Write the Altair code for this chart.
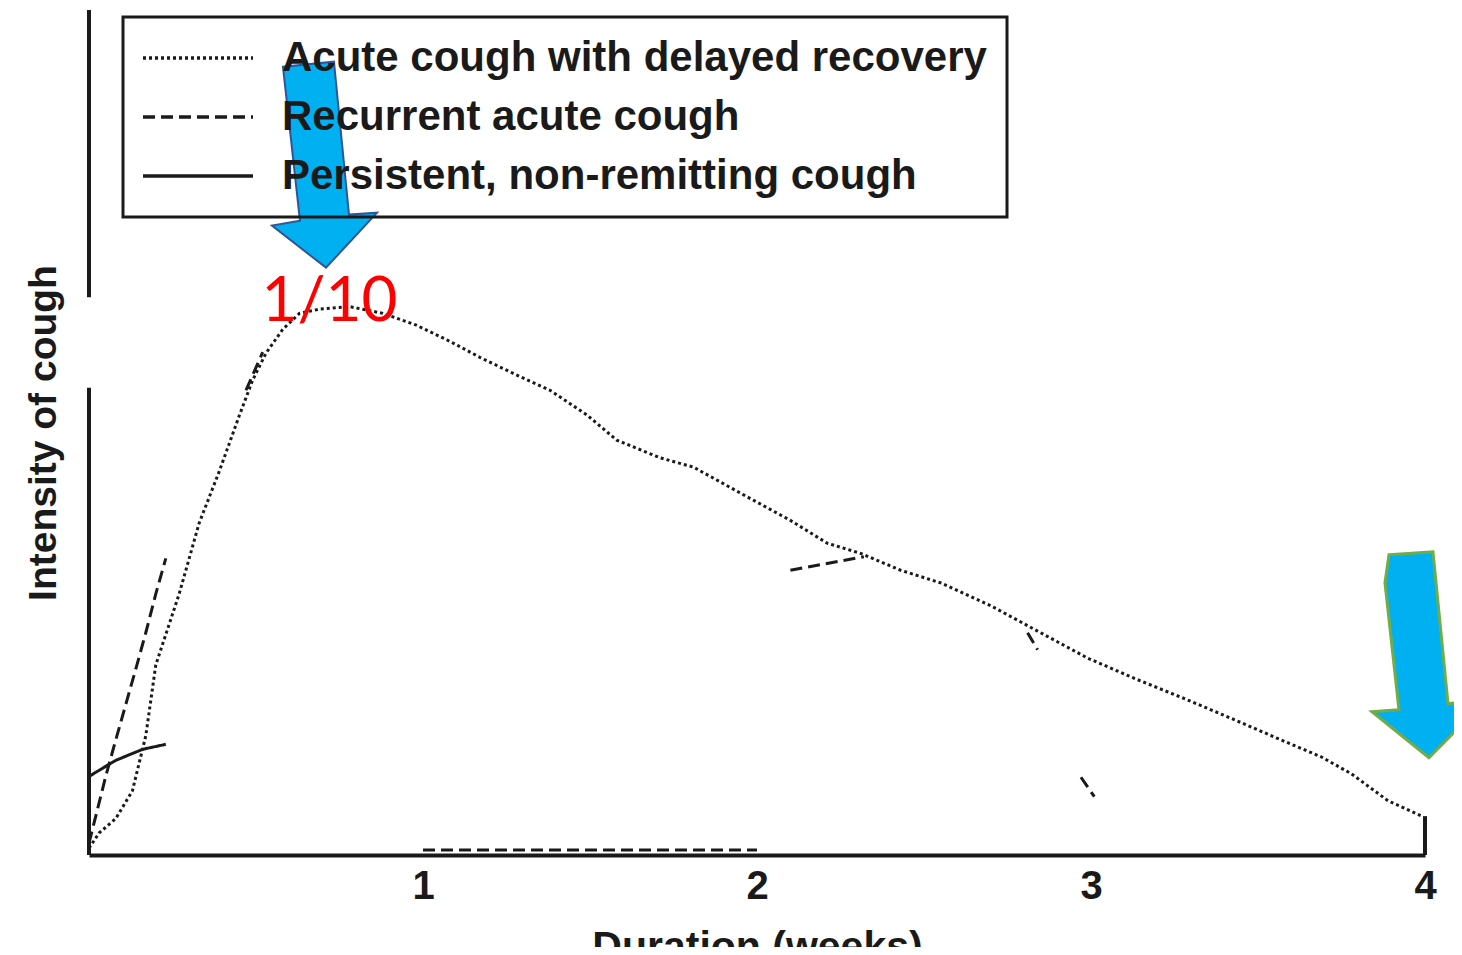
import altair as alt
import pandas as pd

# ---- data (weeks, intensity on a 0-100 scale) ----
acute_weeks = [0.00, 0.03, 0.08, 0.13, 0.17, 0.20, 0.27, 0.33, 0.39, 0.45,
               0.49, 0.53, 0.58, 0.63, 0.69, 0.78, 0.88, 0.98, 1.08, 1.17,
               1.27, 1.38, 1.49, 1.58, 1.71, 1.81, 1.97, 2.10, 2.21, 2.31,
               2.43, 2.55, 2.70, 2.84, 2.99, 3.13, 3.28, 3.43, 3.57, 3.69,
               3.78, 3.89, 3.99]
acute_values = [0.8, 2.6, 4.3, 7.6, 14.1, 22.5, 30.9, 39.3, 45.4, 52.0,
                56.2, 59.4, 62.2, 64.1, 64.6, 64.9, 64.1, 62.7, 60.8, 58.9,
                57.0, 55.0, 52.1, 49.1, 47.0, 45.9, 42.4, 39.6, 36.9, 35.7,
                33.7, 32.2, 29.5, 26.5, 23.3, 20.9, 18.5, 16.0, 13.6, 11.6,
                9.6, 6.4, 4.6]

# recurrent acute cough: only the visible pieces (segment id, week, value)
recurrent_seg = [1, 1, 1, 1, 1, 1, 1, 1, 2, 2, 3, 3, 4, 4, 5, 5, 6, 6]
recurrent_weeks = [0.00, 0.05, 0.08, 0.11, 0.14, 0.17, 0.20, 0.23,
                   0.47, 0.52, 1.00, 2.00, 2.10, 2.32, 2.81, 2.84, 2.97, 3.01]
recurrent_values = [1.4, 9.3, 13.6, 17.8, 22.0, 26.3, 30.9, 35.1,
                    55.0, 59.5, 0.6, 0.6, 33.7, 35.3, 26.3, 24.3, 9.2, 6.9]

# persistent cough: visible piece
persistent_weeks = [0.00, 0.08, 0.16, 0.23]
persistent_values = [9.3, 11.2, 12.5, 13.1]

series_names = ["Acute cough with delayed recovery",
                "Recurrent acute cough",
                "Persistent, non-remitting cough"]

# visible pieces of the y-axis line and the end line at 4 weeks
axis_x = [0, 0, 4]
axis_y = [0, 66.0, 0]
axis_y2 = [55.3, 100, 4.6]

note_text = ["1/10"]
note_week = [0.72]
note_value = [65.4]

arrow_week = [0.705, 3.985]
arrow_value = [81.7, 23.7]

# ---- tables ----
rows = []
for w, v in zip(acute_weeks, acute_values):
    rows.append({"series": series_names[0], "seg": "a1", "week": w, "value": v})
for s, w, v in zip(recurrent_seg, recurrent_weeks, recurrent_values):
    rows.append({"series": series_names[1], "seg": f"r{s}", "week": w, "value": v})
for w, v in zip(persistent_weeks, persistent_values):
    rows.append({"series": series_names[2], "seg": "p1", "week": w, "value": v})
lines_df = pd.DataFrame(rows)

axis_df = pd.DataFrame({"week": axis_x, "value": axis_y, "value2": axis_y2})
note_df = pd.DataFrame({"text": note_text, "week": note_week, "value": note_value})
arrow1_df = pd.DataFrame({"week": arrow_week[:1], "value": arrow_value[:1]})
arrow2_df = pd.DataFrame({"week": arrow_week[1:], "value": arrow_value[1:]})

FONT = "Liberation Sans"
INK = "#1a1a1a"

x_scale = alt.Scale(domain=[0, 4], nice=False, zero=False)
y_scale = alt.Scale(domain=[0, 100], nice=False, zero=False)

x_axis = alt.Axis(values=[1, 2, 3, 4], format="d", grid=False, ticks=False,
                  domainColor=INK, domainWidth=4,
                  labelFont=FONT, labelFontSize=40, labelFontWeight="bold",
                  labelColor=INK, labelPadding=11, labelFlush=False,
                  title="Duration (weeks)", titleFont=FONT, titleFontSize=41,
                  titleFontWeight="bold", titleColor=INK, titlePadding=21)
y_axis = alt.Axis(labels=False, ticks=False, domain=False, grid=False,
                  title="Intensity of cough", titleFont=FONT, titleFontSize=39,
                  titleFontWeight="bold", titleColor=INK, titlePadding=26)

lines = alt.Chart(lines_df).mark_line(strokeWidth=3, color=INK).encode(
    x=alt.X("week:Q", scale=x_scale, axis=x_axis),
    y=alt.Y("value:Q", scale=y_scale, axis=y_axis),
    strokeDash=alt.StrokeDash(
        "series:N",
        scale=alt.Scale(domain=series_names, range=[[3, 3], [12, 6], [1, 0]]),
        legend=alt.Legend(
            title=None, orient="none", legendX=34, legendY=7, zindex=0,
            strokeColor=INK, padding=20,
            symbolType="M-5,0H5", symbolSize=484, symbolStrokeWidth=3.5,
            symbolStrokeColor=INK, symbolOffset=34, labelOffset=63,
            labelFont=FONT, labelFontSize=42, labelFontWeight="bold",
            labelColor=INK, labelLimit=0, rowPadding=17,
        ),
    ),
    detail="seg:N",
    order="week:Q",
)

axis_lines = alt.Chart(axis_df).mark_rule(strokeWidth=4, color=INK).encode(
    x="week:Q", y="value:Q", y2="value2:Q"
)

note = alt.Chart(note_df).mark_text(
    font="Lato", fontSize=62, color="#ff0000", align="center", baseline="middle"
).encode(x="week:Q", y="value:Q", text="text:N")

arrow1 = alt.Chart(arrow1_df).mark_point(
    shape="M-0.403,-0.951L0.092,-1L0.238,0.485L0.51,0.466L0.015,1L-0.51,0.592L-0.238,0.544Z",
    size=42436, filled=True, fill="#00b0f0", stroke="#2f5597", strokeWidth=2, opacity=1,
).encode(x="week:Q", y="value:Q")

arrow2 = alt.Chart(arrow2_df).mark_point(
    shape="M-0.301,-0.971L0.126,-1L0.272,0.476L0.641,0.437L0.087,1L-0.466,0.553L-0.204,0.534L-0.34,-0.699Z",
    size=42436, filled=True, fill="#00b0f0", stroke="#70ad47", strokeWidth=3, opacity=1,
).encode(x="week:Q", y="value:Q")

chart = alt.layer(axis_lines, lines, note, arrow1, arrow2).properties(
    width=1336, height=845,
    padding={"left": 81, "top": 2, "right": 29, "bottom": 92},
    autosize=alt.AutoSizeParams(type="none"),
    background="white",
).configure_view(stroke=None).configure_legend(strokeWidth=3)

chart.save("out.html", embed_options={"renderer": "svg", "actions": False})
